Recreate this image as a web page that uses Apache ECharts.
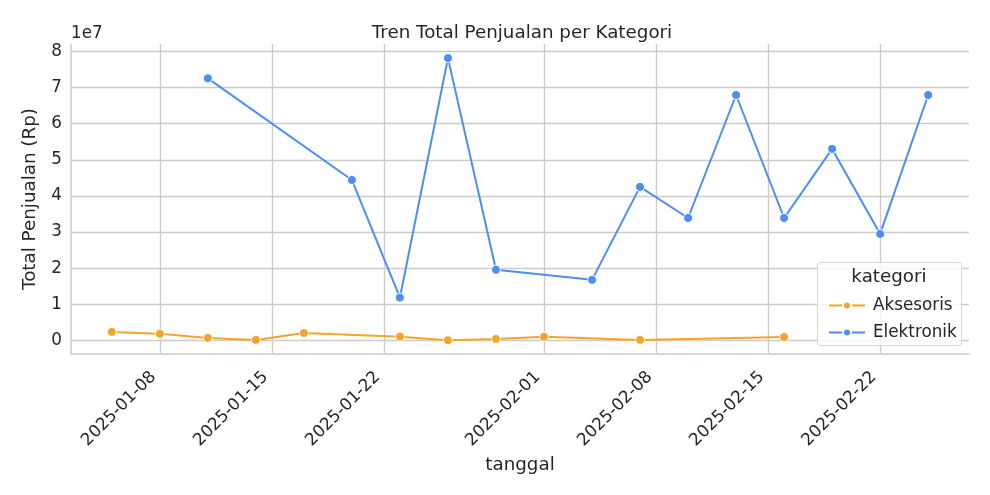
<!DOCTYPE html>
<html>
<head>
<meta charset="utf-8">
<script src="https://cdn.jsdelivr.net/npm/echarts@6/dist/echarts.min.js"></script>
<style>html,body{margin:0;padding:0;background:#fff}#c{width:990px;height:495px}</style>
</head>
<body>
<div id="c"></div>
<script>
const aksDates = ['2025-01-05','2025-01-08','2025-01-11','2025-01-14','2025-01-17','2025-01-23','2025-01-26','2025-01-29','2025-02-01','2025-02-07','2025-02-16'];
const aksValues = [2.4e6, 1.9e6, 0.75e6, 0.2e6, 2.1e6, 1.1e6, 0.1e6, 0.45e6, 1.05e6, 0.2e6, 1.0e6];
const elkDates = ['2025-01-11','2025-01-20','2025-01-23','2025-01-26','2025-01-29','2025-02-04','2025-02-07','2025-02-10','2025-02-13','2025-02-16','2025-02-19','2025-02-22','2025-02-25'];
const elkValues = [72.5e6, 44.4e6, 11.9e6, 78.1e6, 19.6e6, 16.8e6, 42.5e6, 33.9e6, 67.9e6, 33.9e6, 53.0e6, 29.5e6, 67.9e6];
const xTickLabels = ['2025-01-08','2025-01-15','2025-01-22','2025-02-01','2025-02-08','2025-02-15','2025-02-22'];
const yTicks = [0, 1e7, 2e7, 3e7, 4e7, 5e7, 6e7, 7e7, 8e7];

const DAY = 86400000;
const ts = s => Date.parse(s + 'T00:00:00Z');
const pad2 = n => (n < 10 ? '0' : '') + n;
const fmt = v => { const d = new Date(v); return d.getUTCFullYear() + '-' + pad2(d.getUTCMonth() + 1) + '-' + pad2(d.getUTCDate()); };
const xMin = ts('2025-01-05') - 2.55 * DAY;
const xMax = ts('2025-02-25') + 2.55 * DAY;
const xTicks = xTickLabels.map(ts);
const FONT = 'DejaVu Sans';
const TXT = '#262626';
const GRID = '#cccccc';
const BIG = 18.3, SMALL = 16.8;

const chart = echarts.init(document.getElementById('c'), null, {renderer: 'canvas'});
chart.setOption({
  animation: false,
  backgroundColor: '#ffffff',
  textStyle: {fontFamily: FONT},
  title: {
    text: 'Tren Total Penjualan per Kategori',
    left: 517, top: 19, textAlign: 'center',
    textStyle: {fontFamily: FONT, fontSize: BIG, fontWeight: 'normal', color: TXT}
  },
  grid: {left: 71, right: 21, top: 44, bottom: 141, containLabel: false},
  xAxis: {
    type: 'value', min: xMin, max: xMax,
    name: 'tanggal', nameLocation: 'middle', nameGap: 102,
    nameTextStyle: {fontFamily: FONT, fontSize: BIG, color: TXT, verticalAlign: 'top'},
    axisLine: {show: true, onZero: false, lineStyle: {color: GRID, width: 1.5}},
    axisTick: {show: false, customValues: xTicks},
    axisLabel: {customValues: xTicks, rotate: 45, margin: 14, padding: [0, 9, 0, 0], formatter: v => fmt(v),
      fontFamily: FONT, fontSize: SMALL, color: TXT},
    splitLine: {show: true, lineStyle: {color: GRID, width: 1.4}}
  },
  yAxis: {
    type: 'value', min: -3.7e6, max: 82e6,
    name: 'Total Penjualan (Rp)', nameLocation: 'middle', nameGap: 32,
    nameTextStyle: {fontFamily: FONT, fontSize: BIG, color: TXT},
    axisLine: {show: true, onZero: false, lineStyle: {color: GRID, width: 1.5}},
    axisTick: {show: false, customValues: yTicks},
    axisLabel: {customValues: yTicks, margin: 9, formatter: v => String(Math.round(v / 1e7)),
      fontFamily: FONT, fontSize: SMALL, color: TXT},
    splitLine: {show: true, lineStyle: {color: GRID, width: 1.4}}
  },
  legend: {
    z: 20,
    orient: 'vertical', left: 823, top: 292,
    itemWidth: 36, itemHeight: 10, itemGap: 10,
    data: ['Aksesoris', 'Elektronik'],
    lineStyle: {width: 2},
    textStyle: {fontFamily: FONT, fontSize: SMALL, color: TXT, padding: [0, 0, 0, 3], lineHeight: 17}
  },
  graphic: [
    {type: 'rect', z: 3, shape: {x: 817.5, y: 262.5, width: 144, height: 83, r: 3},
     style: {fill: 'rgba(255,255,255,0.8)', stroke: '#d6d6d6', lineWidth: 1}},
    {type: 'text', z: 21, x: 889, y: 277, style: {text: 'kategori', font: BIG + 'px "DejaVu Sans"', fill: TXT, align: 'center', verticalAlign: 'middle'}},
    {type: 'text', x: 71, y: 34, style: {text: '1e7', font: SMALL + 'px "DejaVu Sans"', fill: TXT, align: 'left', verticalAlign: 'middle'}}
  ],
  series: [
    {name: 'Aksesoris', type: 'line', data: aksDates.map((d, i) => [ts(d), aksValues[i]]),
     color: '#F5A42A', symbol: 'circle', symbolSize: 9, showSymbol: true,
     lineStyle: {width: 2}, itemStyle: {color: '#F5A42A', borderColor: '#ffffff', borderWidth: 1}},
    {name: 'Elektronik', type: 'line', data: elkDates.map((d, i) => [ts(d), elkValues[i]]),
     color: '#4C8DF6', symbol: 'circle', symbolSize: 9, showSymbol: true,
     lineStyle: {width: 2}, itemStyle: {color: '#4C8DF6', borderColor: '#ffffff', borderWidth: 1}}
  ]
});
</script>
</body>
</html>
